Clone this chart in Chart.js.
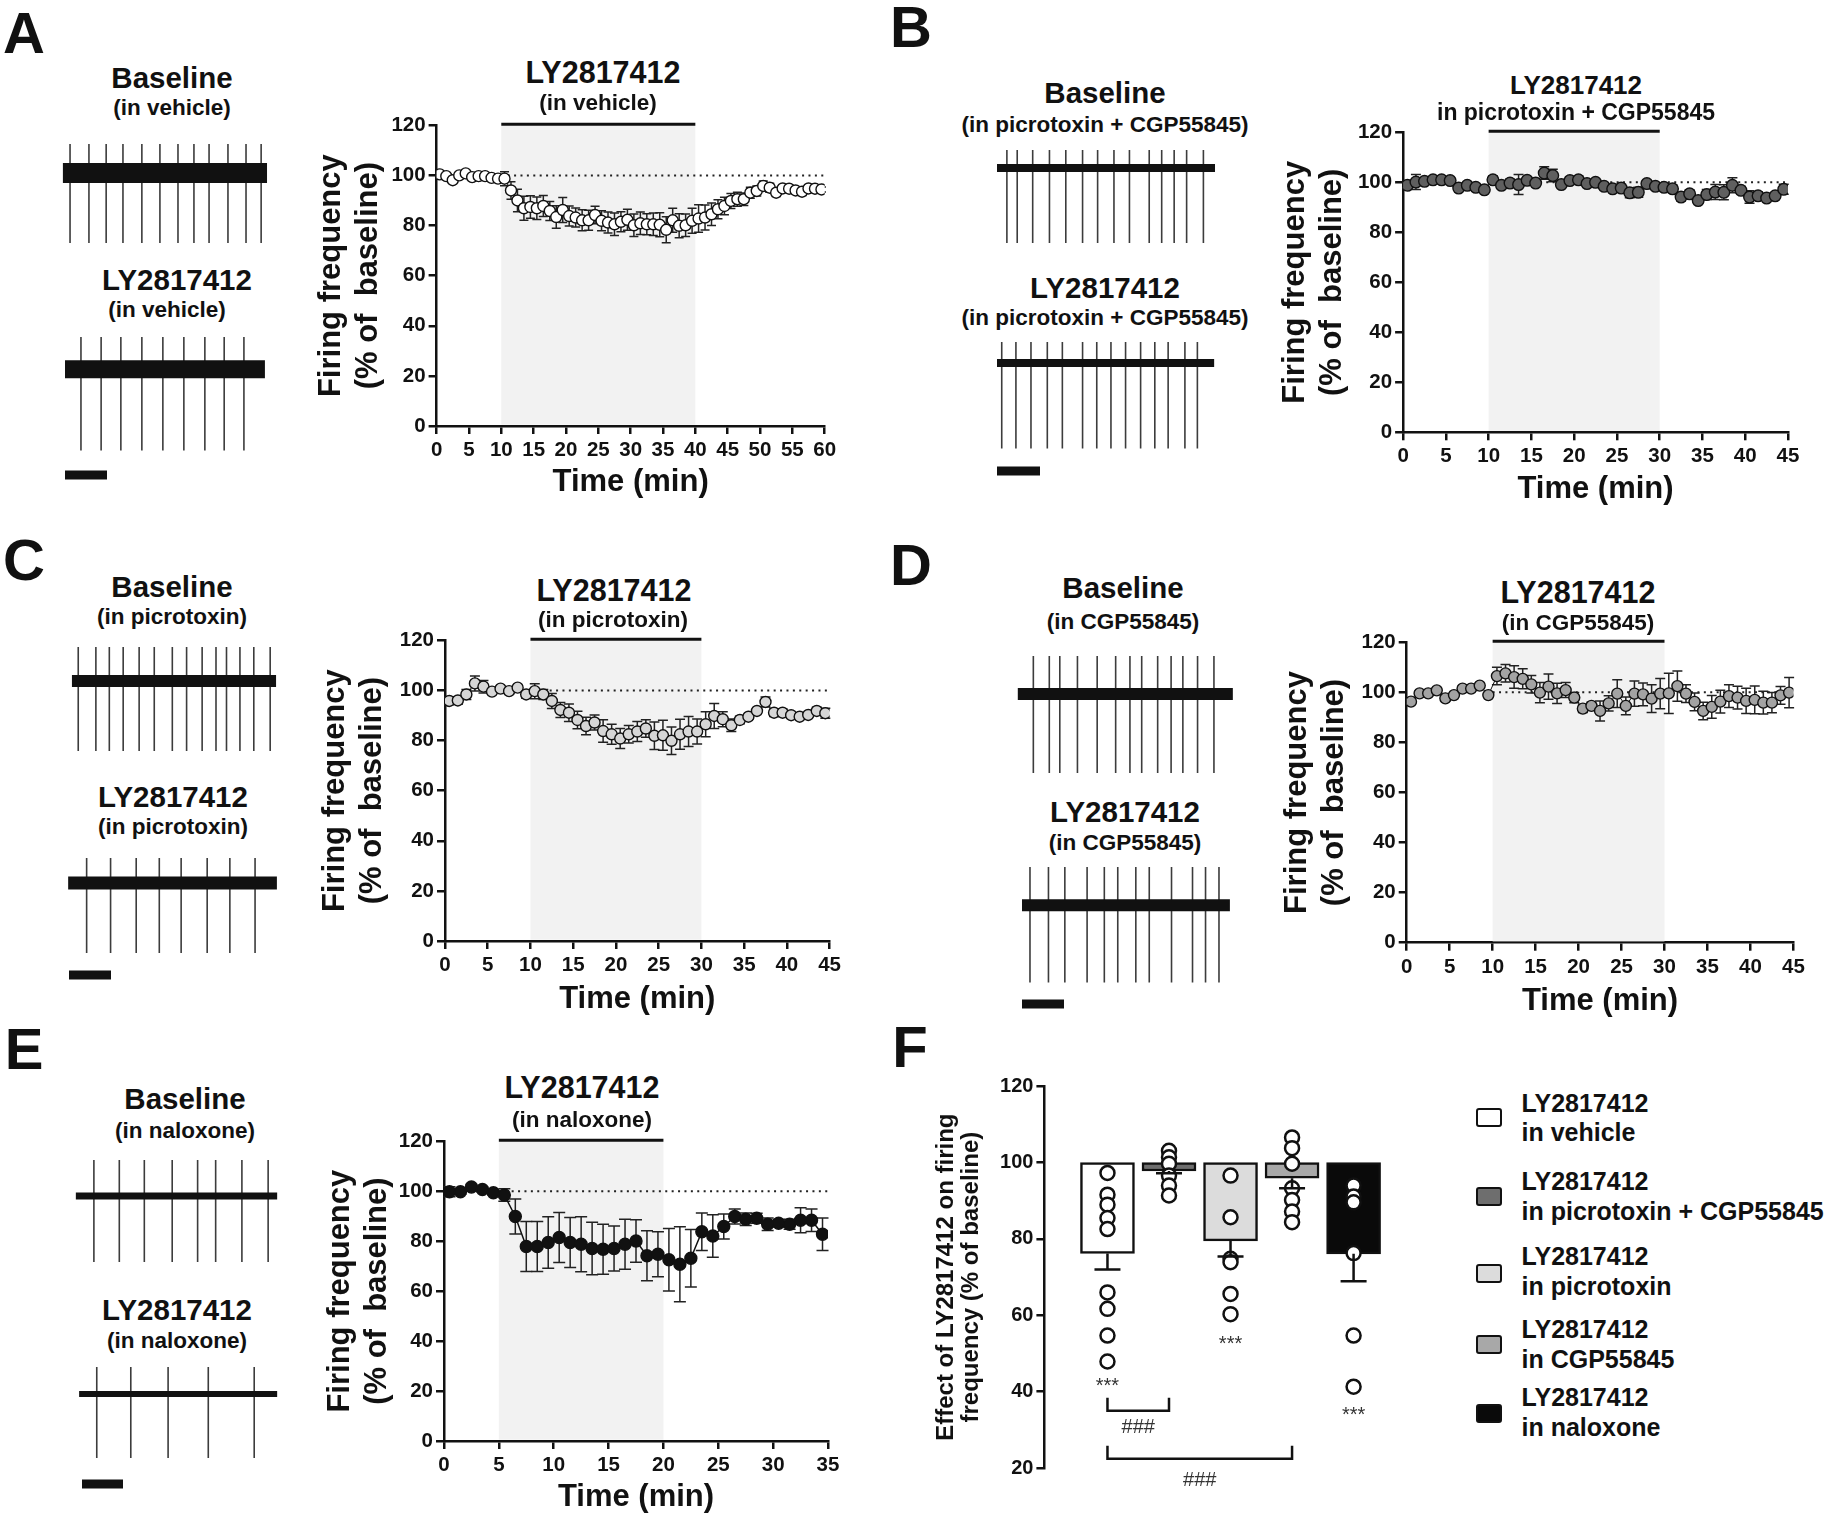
<!DOCTYPE html>
<html>
<head>
<meta charset="utf-8">
<title>LY2817412 firing frequency</title>
<script src="https://cdn.jsdelivr.net/npm/chart.js@4.4.1/dist/chart.umd.min.js"></script>
<style>
  body { margin: 0; background: #fff; }
  #page { position: relative; width: 1834px; height: 1517px; overflow: hidden;
          font-family: "Liberation Sans", Arial, sans-serif; color: #111; }
  canvas { position: absolute; }
  .txt { position: absolute; white-space: nowrap; font-weight: bold; line-height: 1;
         transform: translate(-50%, -50%); }
  .txt.left { transform: translate(0, -50%); }
  .key { position: absolute; width: 26px; height: 19px; border: 2.5px solid #111;
         box-sizing: border-box; border-radius: 3px; }
</style>
</head>
<body>
<div id="page"></div>
<script>
// ********* DATA *********
// bin centres (min) of the time courses
const bins = (n) => Array.from({ length: n }, (_, i) => i + 0.5);

// A - LY2817412 in vehicle
const timeA = bins(60);
const meanA = [100.4, 99.7, 98.1, 100, 100.8, 99.3, 99.7, 99.7, 99, 98.7,
  98.7, 94, 90, 86.9, 87.4, 86.9, 87.8, 85.8, 83.4, 86.2,
  83.8, 83.2, 82.1, 82.1, 84.2, 81.9, 81.2, 80.5, 81.5, 82.3,
  80.1, 80.9, 80.5, 80.5, 80.3, 78.3, 82.1, 79.9, 80.1, 81.9,
  82.8, 83.2, 84.5, 86.5, 87.8, 89.8, 90.5, 90.5, 93.1, 93.8,
  95.8, 95.1, 93.1, 94.8, 94.7, 94, 93.5, 94.8, 94.7, 94.4];
const semA = [0.5, 0.6, 0.8, 0.5, 0.6, 0.5, 0.4, 0.5, 0.6, 0.7,
  2.8, 3.5, 4.5, 4.8, 4.5, 4.5, 4.2, 3.8, 4.5, 5.0,
  4.0, 3.8, 4.2, 4.0, 3.5, 4.0, 4.2, 4.5, 4.0, 4.2,
  4.5, 4.5, 4.2, 4.5, 4.8, 5.2, 4.8, 4.8, 4.5, 5.0,
  5.5, 5.0, 4.5, 3.8, 3.5, 3.0, 2.8, 2.5, 2.2, 2.0,
  2.0, 1.8, 1.5, 1.2, 1.0, 1.0, 1.5, 1.2, 1.0, 1.0];

// B - LY2817412 in picrotoxin + CGP55845
const timeB = bins(45);
const meanB = [98.8, 100.1, 100.4, 101, 101, 100.7, 97.7, 98.8, 98, 97,
  101, 98.8, 99.7, 99.1, 100.8, 99.7, 103.7, 102.7, 99.1, 100.7,
  101, 99.5, 100, 98.4, 97.4, 97.7, 95.8, 96, 99.5, 98.4,
  98, 97.4, 94.1, 95.4, 92.7, 95.1, 96.1, 96, 98.8, 96.8,
  94.1, 94.6, 93.7, 94.6, 97.2];
const semB = [1, 3, 1, 0.8, 0.8, 0.8, 1, 0.8, 1, 1,
  1.5, 1, 1.5, 4, 1, 1, 2.5, 2.5, 1, 1.5,
  1.5, 1, 1, 1, 1, 1.5, 2, 2, 1, 1,
  1, 1.5, 1.5, 1.5, 1, 2, 3, 3, 3, 1.5,
  2.5, 1.5, 1, 1, 2];

// C - LY2817412 in picrotoxin
const timeC = bins(45);
const meanC = [95.8, 96, 98.4, 102.8, 101.5, 99.5, 100.7, 99.7, 101.1, 98.4,
  99.7, 98.4, 95.8, 92.2, 91.1, 88.2, 85.8, 87.2, 83.8, 82.5,
  80.8, 82.5, 83.6, 84.8, 81.9, 82.1, 79.9, 82.5, 83.6, 83.6,
  86.5, 89.8, 88.5, 86.1, 88.2, 89.5, 91.8, 95.4, 91.1, 91.1,
  90.1, 89.5, 90.2, 91.8, 90.9];
const semC = [1.5, 1.5, 2, 3, 2.5, 1, 1, 1, 1, 1.5,
  3, 2, 3, 3, 3.5, 3.5, 3.5, 3, 4.5, 4,
  4, 3.5, 4, 3.5, 5.5, 6, 5.5, 6, 6, 5,
  5, 5, 3, 2.5, 1.5, 1, 1, 2, 1.5, 1.5,
  1, 1, 1, 1.5, 2];

// D - LY2817412 in CGP55845
const timeD = bins(45);
const meanD = [96.3, 99.6, 99.6, 100.8, 97.6, 98.9, 101.5, 101.5, 102.7, 98.9,
  106.5, 107.6, 106.1, 105.4, 103.2, 99.9, 102.3, 99.6, 100.9, 97.9,
  93.5, 94.6, 92.6, 95.6, 99.5, 94.6, 99.5, 99.2, 97.5, 99.5,
  99.6, 102.5, 99.5, 96.2, 92.6, 94.2, 96.3, 98.5, 97.9, 96.6,
  97, 95.9, 95.9, 98.8, 99.9];
const semD = [1, 1, 1, 1, 1, 1, 1, 1, 1, 1,
  3.5, 3.5, 4.5, 4, 3.5, 4, 5, 4, 3, 2,
  1.5, 1.5, 4, 3, 5.5, 3.5, 5, 4.5, 5.5, 6,
  8, 6, 3.5, 3.5, 3.5, 4.5, 4.5, 4.5, 4.5, 5,
  5.5, 4.5, 4, 3.5, 6];

// E - LY2817412 in naloxone
const timeE = bins(35);
const meanE = [99.8, 99.8, 101.7, 100.7, 99.4, 98.5, 89.9, 77.9, 77.9, 79.5,
  81.5, 79.5, 78.8, 77.1, 76.8, 77.1, 78.8, 80.1, 74.2, 74.8,
  72.6, 70.8, 73.2, 83.8, 82.1, 85.9, 89.9, 88.8, 89.2, 86.8,
  87.2, 86.8, 88.4, 88.4, 82.8];
const semE = [2, 1, 1, 1, 1, 2.5, 7, 10, 10, 10.3,
  10, 10, 11, 10.5, 10, 9, 10, 8.5, 10, 9,
  12.5, 15, 11.5, 7.5, 8.5, 5, 3, 2.5, 2, 2.5,
  1.5, 2, 5, 4.5, 6.5];

// drug application windows (min)
const drugA = [10, 40];
const drugB = [10, 30];
const drugC = [10, 30];
const drugD = [10, 30];
const drugE = [5, 20];

// F - summary (% of baseline)
const groupsF = ["in vehicle", "in picrotoxin + CGP55845", "in picrotoxin", "in CGP55845", "in naloxone"];
const meanF = [76.2, 97.8, 79.5, 95.9, 76.1];
const semF = [4.2, 0.6, 4.1, 2.6, 7.2];
const cellsF = [
  [97.3, 91.6, 89.0, 85.5, 82.6, 66.0, 61.7, 54.7, 47.9],
  [103.1, 101.4, 99.7, 96.6, 94.0, 91.4],
  [96.6, 85.7, 74.8, 73.9, 65.6, 60.3],
  [106.6, 103.8, 99.7, 93.3, 90.2, 87.2, 84.4],
  [94.0, 91.1, 89.6, 76.3, 54.7, 41.3]
];
const starsF = [[0, 42.5], [2, 53.4], [4, 34.7]];       // [group, y] of "***"
const compareF = [[0, 1, 35.0, 30.7], [0, 3, 22.4, 16.7]]; // [from, to, bracket y, "###" y]

// example traces: spike times (s, scale bar = 1 s), trace span (s), spike amplitude [up, down]
const spikesA1 = [0.12, 0.57, 0.98, 1.38, 1.83, 2.26, 2.69, 3.07, 3.43, 3.88, 4.31, 4.67];
const spikesA2 = [0.38, 0.86, 1.33, 1.83, 2.33, 2.83, 3.33, 3.79, 4.26];
const spikesB1 = [0.23, 0.47, 0.83, 1.22, 1.60, 1.99, 2.34, 2.72, 3.08, 3.54, 3.83, 4.12, 4.41, 4.80];
const spikesB2 = [0.11, 0.44, 0.79, 1.17, 1.52, 1.99, 2.32, 2.65, 2.99, 3.34, 3.67, 3.98, 4.37, 4.66];
const spikesC1 = [0.22, 0.64, 0.96, 1.29, 1.67, 2.03, 2.46, 2.80, 3.17, 3.50, 3.75, 4.07, 4.40, 4.79];
const spikesC2 = [0.42, 0.99, 1.60, 2.15, 2.67, 3.29, 3.83, 4.43];
const spikesD1 = [0.27, 0.65, 0.90, 1.32, 1.79, 2.23, 2.57, 2.85, 3.23, 3.55, 3.83, 4.18, 4.57];
const spikesD2 = [0.19, 0.63, 1.02, 1.55, 1.96, 2.28, 2.71, 3.03, 3.56, 4.06, 4.37, 4.69];
const spikesE1 = [0.29, 0.91, 1.52, 2.20, 2.82, 3.26, 3.90, 4.54];
const spikesE2 = [0.36, 1.19, 2.10, 3.08, 4.20];
const spanA = [[-0.05, 4.81], [0, 4.76]];
const spanB = [[0, 5.07], [0, 5.05]];
const spanC = [[0.07, 4.93], [-0.02, 4.95]];
const spanD = [[-0.10, 5.02], [0, 4.95]];
const spanE = [[-0.15, 4.76], [-0.07, 4.76]];
const ampA = [[29, 70], [32, 81]];
const ampB = [[18, 75], [21, 85]];
const ampC = [[34, 70], [25, 70]];
const ampD = [[38, 79], [38, 77]];
const ampE = [[36, 66], [27, 64]];

// ********* SETUP *********
const FONT = '"Liberation Sans", Arial, sans-serif';
Chart.defaults.font.family = FONT;
Chart.defaults.color = "#111";
const page = document.getElementById("page");

const makeCanvas = (left, top, width, height) => {
  const c = document.createElement("canvas");
  c.width = Math.round(width);
  c.height = Math.round(height);
  c.style.left = Math.round(left) + "px";
  c.style.top = Math.round(top) + "px";
  c.style.width = c.width + "px";
  c.style.height = c.height + "px";
  page.appendChild(c);
  return c;
};

const addText = (text, x, y, size, left) => {
  const d = document.createElement("div");
  d.className = left ? "txt left" : "txt";
  d.textContent = text;
  d.style.left = x + "px";
  d.style.top = y + "px";
  d.style.fontSize = size + "px";
  page.appendChild(d);
};

// ********* PLUGINS *********
// shaded drug window, dotted 100 % line and drug bar
const drugPlugin = {
  id: "drug",
  beforeDatasetsDraw(chart, args, opts) {
    const { ctx, scales: { x, y } } = chart;
    const x0 = x.getPixelForValue(opts.start);
    const x1 = x.getPixelForValue(opts.end);
    const yTop = y.getPixelForValue(120);
    const yBot = y.getPixelForValue(0);
    ctx.save();
    ctx.fillStyle = "#f2f2f2";
    ctx.fillRect(x0, yTop, x1 - x0, yBot - yTop - 1.3);
    const y100 = y.getPixelForValue(100);
    ctx.strokeStyle = "#222";
    ctx.lineWidth = 2;
    ctx.setLineDash([2, 4.4]);
    ctx.beginPath();
    ctx.moveTo(x0, y100);
    ctx.lineTo(x.getPixelForValue(x.max), y100);
    ctx.stroke();
    ctx.setLineDash([]);
    ctx.strokeStyle = "#111";
    ctx.lineWidth = 3;
    ctx.beginPath();
    ctx.moveTo(x0, yTop - 1);
    ctx.lineTo(x1, yTop - 1);
    ctx.stroke();
    ctx.restore();
  },
};

// +/- SEM bars under the points
const errorPlugin = {
  id: "errbars",
  beforeDatasetsDraw(chart) {
    const { ctx, scales: { x, y } } = chart;
    ctx.save();
    ctx.strokeStyle = "#222";
    ctx.lineWidth = 1.5;
    chart.data.datasets.forEach((ds) => {
      if (!ds.errors) return;
      const cap = ds.capWidth / 2;
      ds.data.forEach((p, i) => {
        const px = x.getPixelForValue(p.x);
        const hi = y.getPixelForValue(p.y + ds.errors[i]);
        const lo = y.getPixelForValue(p.y - ds.errors[i]);
        ctx.beginPath();
        ctx.moveTo(px, hi); ctx.lineTo(px, lo);
        ctx.moveTo(px - cap, hi); ctx.lineTo(px + cap, hi);
        ctx.moveTo(px - cap, lo); ctx.lineTo(px + cap, lo);
        ctx.stroke();
      });
    });
    ctx.restore();
  },
};

// F: SEM (one sided), stars, comparison brackets
const summaryPlugin = {
  id: "summary",
  afterDatasetsDraw(chart) {
    const { ctx, scales: { x, y } } = chart;
    ctx.save();
    ctx.strokeStyle = "#111";
    ctx.lineWidth = 2.5;
    meanF.forEach((m, i) => {
      const px = x.getPixelForValue(i);
      const y0 = y.getPixelForValue(m);
      const y1 = y.getPixelForValue(m - semF[i]);
      ctx.beginPath();
      ctx.moveTo(px, y0); ctx.lineTo(px, y1);
      ctx.moveTo(px - 13, y1); ctx.lineTo(px + 13, y1);
      ctx.stroke();
    });
    ctx.fillStyle = "#333";
    ctx.textAlign = "center";
    ctx.textBaseline = "middle";
    ctx.font = "20px " + FONT;
    starsF.forEach(([g, v]) => ctx.fillText("***", x.getPixelForValue(g), y.getPixelForValue(v) + 4));
    compareF.forEach(([a, b, v, t]) => {
      const xa = x.getPixelForValue(a);
      const xb = x.getPixelForValue(b);
      const yv = y.getPixelForValue(v);
      ctx.beginPath();
      ctx.moveTo(xa, yv - 13); ctx.lineTo(xa, yv); ctx.lineTo(xb, yv); ctx.lineTo(xb, yv - 13);
      ctx.stroke();
      ctx.fillText("###", (xa + xb) / 2, y.getPixelForValue(t));
    });
    ctx.restore();
  },
};

// ********* TIME COURSE CHARTS *********
const tickFont = { family: FONT, size: 20.5, weight: "bold" };
const titleFont = { family: FONT, size: 31, weight: "bold", lineHeight: 1.19 };
const TITLE_LH = 31 * 1.19;

const timeChart = (p) => {
  const left = Math.round(p.yTitleX - TITLE_LH / 2);
  const top = Math.round(p.area.t - 14);
  const right = Math.round(p.area.r + 28);
  const bottom = Math.round(p.xTitleY + TITLE_LH / 2);
  const canvas = makeCanvas(left, top, right - left, bottom - top);
  const axisLine = { display: true, color: "#111", width: 2.5 };
  const tickGrid = { drawOnChartArea: false, drawTicks: true, tickLength: 8, color: "#111", lineWidth: 2.5 };
  new Chart(canvas, {
    type: "line",
    data: {
      datasets: [{
        data: p.times.map((t, i) => ({ x: t, y: p.means[i] })),
        errors: p.sems,
        capWidth: p.cap,
        borderColor: "#111",
        borderWidth: p.lineWidth,
        pointRadius: p.radius,
        pointBackgroundColor: p.fill,
        pointBorderColor: "#111",
        pointBorderWidth: 1.4,
      }],
    },
    options: {
      responsive: false, animation: false, devicePixelRatio: 1, events: [],
      layout: { padding: { left: 0, bottom: 0, top: p.area.t - top, right: right - p.area.r } },
      plugins: {
        legend: { display: false },
        tooltip: { enabled: false },
        drug: { start: p.drug[0], end: p.drug[1] },
      },
      scales: {
        x: {
          type: "linear", min: 0, max: p.xMax,
          ticks: { stepSize: 5, autoSkip: false, maxRotation: 0, font: tickFont, color: "#111", padding: 4 },
          grid: tickGrid, border: axisLine,
          title: { display: true, text: "Time (min)", font: titleFont, color: "#111", padding: 0 },
          afterFit: (s) => { s.height = bottom - p.area.b; },
        },
        y: {
          type: "linear", min: 0, max: 120,
          ticks: { stepSize: 20, autoSkip: false, font: tickFont, color: "#111", padding: 3 },
          grid: tickGrid, border: axisLine,
          title: { display: true, text: ["Firing frequency", "(% of  baseline)"], font: titleFont, color: "#111", padding: 0 },
          afterFit: (s) => { s.width = p.area.l - left; },
        },
      },
    },
    plugins: [drugPlugin, errorPlugin],
  });
};

const panels = [
  { times: timeA, means: meanA, sems: semA, drug: drugA, xMax: 60, fill: "#ffffff", radius: 5.5, lineWidth: 1, cap: 9,
    area: { l: 436.6, t: 124, r: 824.7, b: 426 }, yTitleX: 331.8, xTitleY: 483 },
  { times: timeB, means: meanB, sems: semB, drug: drugB, xMax: 45, fill: "#5f5f5f", radius: 5.8, lineWidth: 1, cap: 10,
    area: { l: 1403.1, t: 130.7, r: 1788, b: 432.3 }, yTitleX: 1295.5, xTitleY: 490 },
  { times: timeC, means: meanC, sems: semC, drug: drugC, xMax: 45, fill: "#d6d6d6", radius: 5.5, lineWidth: 1, cap: 10,
    area: { l: 445, t: 639, r: 829.6, b: 941 }, yTitleX: 335, xTitleY: 1000 },
  { times: timeD, means: meanD, sems: semD, drug: drugD, xMax: 45, fill: "#a3a3a3", radius: 5.5, lineWidth: 1, cap: 10,
    area: { l: 1406.7, t: 641, r: 1793.4, b: 942.7 }, yTitleX: 1297.5, xTitleY: 1002 },
  { times: timeE, means: meanE, sems: semE, drug: drugE, xMax: 35, fill: "#111111", radius: 6, lineWidth: 1.5, cap: 12,
    area: { l: 444, t: 1140, r: 828, b: 1441 }, yTitleX: 340, xTitleY: 1498 },
];
panels.forEach(timeChart);

// ********* EXAMPLE TRACES *********
// y units are drawn 1:1 so the amplitudes keep the look of the recordings
const traceChart = (spikes, span, amp, lay, base, thick, withBar) => {
  const left = lay.ox - 20;
  const right = lay.ox + 232;
  const top = base - amp[0] - 6;
  const bottom = withBar ? lay.barY + 8 : base + amp[1] + 6;
  const canvas = makeCanvas(left, top, right - left, bottom - top);
  const datasets = [
    { data: [{ x: span[0], y: 0 }, { x: span[1], y: 0 }], borderColor: "#111", borderWidth: thick, pointRadius: 0 },
    { data: spikes.flatMap((t) => [{ x: t, y: amp[0] }, { x: t, y: -amp[1] }, { x: t, y: null }]),
      borderColor: "#3c3c3c", borderWidth: 1.6, pointRadius: 0, spanGaps: false },
  ];
  if (withBar) {
    datasets.push({ data: [{ x: 0, y: base - lay.barY }, { x: 1, y: base - lay.barY }],
      borderColor: "#111", borderWidth: 9, pointRadius: 0 });
  }
  new Chart(canvas, {
    type: "line",
    data: { datasets },
    options: {
      responsive: false, animation: false, devicePixelRatio: 1, events: [],
      layout: { padding: 0 },
      plugins: { legend: { display: false }, tooltip: { enabled: false } },
      scales: {
        x: { type: "linear", display: false, min: (left - lay.ox) / lay.pps, max: (right - lay.ox) / lay.pps },
        y: { type: "linear", display: false, min: -(bottom - base), max: base - top },
      },
    },
  });
};

const traceLayout = [
  { s: [spikesA1, spikesA2], span: spanA, amp: ampA, ox: 65, pps: 42, base: [173, 369], thick: [20, 18], barY: 474.5 },
  { s: [spikesB1, spikesB2], span: spanB, amp: ampB, ox: 997, pps: 43, base: [168, 363], thick: [8, 8], barY: 470.5 },
  { s: [spikesC1, spikesC2], span: spanC, amp: ampC, ox: 69, pps: 42, base: [680.7, 883], thick: [12, 13], barY: 975 },
  { s: [spikesD1, spikesD2], span: spanD, amp: ampD, ox: 1022, pps: 42, base: [694, 905], thick: [12, 12], barY: 1003.5 },
  { s: [spikesE1, spikesE2], span: spanE, amp: ampE, ox: 82, pps: 41, base: [1195.7, 1394], thick: [7, 6], barY: 1484 },
];
traceLayout.forEach((lay) => {
  traceChart(lay.s[0], lay.span[0], lay.amp[0], lay, lay.base[0], lay.thick[0], false);
  traceChart(lay.s[1], lay.span[1], lay.amp[1], lay, lay.base[1], lay.thick[1], true);
});

// ********* F SUMMARY *********
const colorsF = ["#ffffff", "#6e6e6e", "#dcdcdc", "#a8a8a8", "#0a0a0a"];
(() => {
  const left = 934, top = 1070, right = 1420, bottom = 1500;
  const areaL = 1044.4, areaT = 1086.3, areaR = 1410.6, areaB = 1468;
  const canvas = makeCanvas(left, top, right - left, bottom - top);
  new Chart(canvas, {
    type: "bar",
    data: {
      datasets: [
        {
          type: "scatter", order: 1,
          data: cellsF.flatMap((vals, g) => vals.map((v) => ({ x: g, y: v }))),
          pointRadius: 7, pointBackgroundColor: "#ffffff", pointBorderColor: "#111", pointBorderWidth: 2.5,
        },
        {
          type: "bar", order: 2,
          data: meanF.map((m, i) => ({ x: i, y: [m, 100] })),
          backgroundColor: colorsF, borderColor: "#111", borderWidth: 2.5, borderSkipped: false,
          barThickness: 54,
        },
      ],
    },
    options: {
      responsive: false, animation: false, devicePixelRatio: 1, events: [],
      layout: { padding: { left: 0, top: areaT - top, right: right - areaR, bottom: bottom - areaB } },
      plugins: { legend: { display: false }, tooltip: { enabled: false } },
      scales: {
        x: { type: "linear", display: false, min: -0.6, max: 4.5 },
        y: {
          type: "linear", min: 20, max: 120,
          ticks: { stepSize: 20, font: { family: FONT, size: 20, weight: "bold" }, color: "#111", padding: 3 },
          grid: { drawOnChartArea: false, drawTicks: true, tickLength: 8, color: "#111", lineWidth: 2.5 },
          border: { display: true, color: "#111", width: 2.5 },
          title: {
            display: true, padding: 0, color: "#111",
            text: ["Effect of LY2817412 on firing", "frequency (% of baseline)"],
            font: { family: FONT, size: 24, weight: "bold", lineHeight: 25 / 24 },
          },
          afterFit: (s) => { s.width = areaL - left; },
        },
      },
    },
    plugins: [summaryPlugin],
  });

  // legend
  const keyY = [1117.3, 1196.7, 1273.3, 1344, 1413.3];
  const lineY = [[1103, 1132.3], [1180.7, 1210.7], [1255.7, 1285.7], [1329, 1359], [1397.3, 1427.3]];
  groupsF.forEach((g, i) => {
    const k = document.createElement("div");
    k.className = "key";
    k.style.left = "1476px";
    k.style.top = (keyY[i] - 9.5) + "px";
    k.style.background = colorsF[i];
    page.appendChild(k);
    addText("LY2817412", 1521.5, lineY[i][0], 25, true);
    addText(g, 1521.5, lineY[i][1], 25, true);
  });
})();

// ********* LABELS *********
const labels = [
  ["A", 24, 33, 58], ["B", 911, 27, 58], ["C", 24, 560, 58],
  ["D", 911, 565, 58], ["E", 24, 1049, 58], ["F", 910, 1047, 58],
  ["Baseline", 172, 78, 29.5], ["(in vehicle)", 172, 108, 22.5],
  ["LY2817412", 177, 280, 29.5], ["(in vehicle)", 167, 310, 22.5],
  ["Baseline", 1105, 93, 29.5], ["(in picrotoxin + CGP55845)", 1105, 125, 22.5],
  ["LY2817412", 1105, 288, 29.5], ["(in picrotoxin + CGP55845)", 1105, 318, 22.5],
  ["Baseline", 172, 587, 29.5], ["(in picrotoxin)", 172, 617, 22.5],
  ["LY2817412", 173, 797, 29.5], ["(in picrotoxin)", 173, 827, 22.5],
  ["Baseline", 1123, 588, 29.5], ["(in CGP55845)", 1123, 622, 22.5],
  ["LY2817412", 1125, 812, 29.5], ["(in CGP55845)", 1125, 843, 22.5],
  ["Baseline", 185, 1099, 29.5], ["(in naloxone)", 185, 1131, 22.5],
  ["LY2817412", 177, 1310, 29.5], ["(in naloxone)", 177, 1341, 22.5],
  ["LY2817412", 603, 72, 30.5], ["(in vehicle)", 598, 103, 22.5],
  ["LY2817412", 1576, 85, 26], ["in picrotoxin + CGP55845", 1576, 112, 23],
  ["LY2817412", 614, 590, 30.5], ["(in picrotoxin)", 613, 620, 22.5],
  ["LY2817412", 1578, 592, 30.5], ["(in CGP55845)", 1578, 623, 22.5],
  ["LY2817412", 582, 1087, 30.5], ["(in naloxone)", 582, 1120, 22.5],
];
labels.forEach(([t, x, y, s]) => addText(t, x, y, s, false));
</script>
</body>
</html>
